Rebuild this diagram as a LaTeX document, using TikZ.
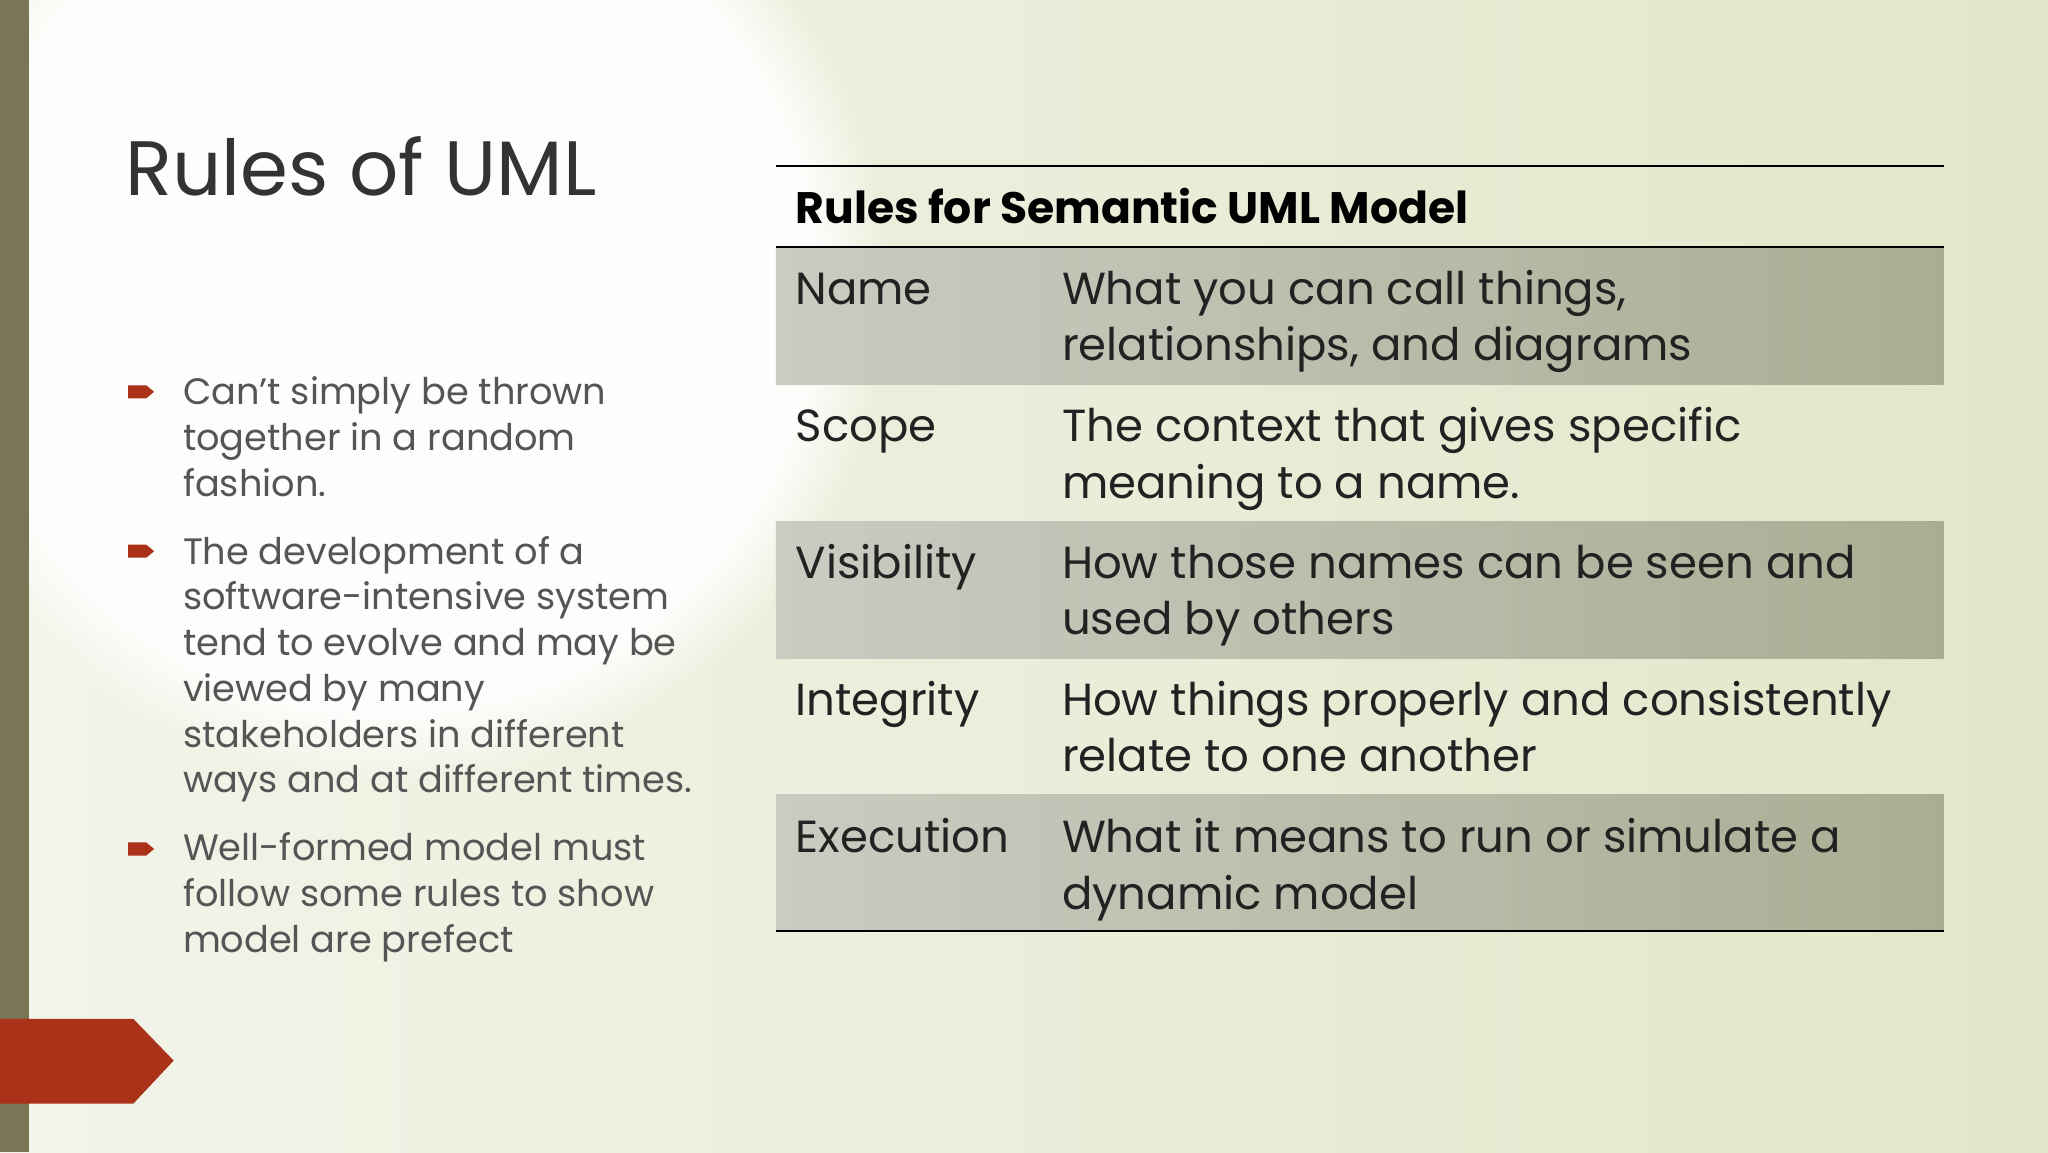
\documentclass[tikz,border=0pt]{standalone}
\usepackage{fontspec}
\setmainfont{Poppins}
\usetikzlibrary{shadings,fadings}
\definecolor{bar}{HTML}{7A7554}
\definecolor{accent}{HTML}{A93219}
\definecolor{txt}{HTML}{555555}
\definecolor{tbl}{HTML}{222222}
\definecolor{bgl}{HTML}{F3F4EA}
\definecolor{bgr}{HTML}{E2E7C9}
\definecolor{rowl}{HTML}{CBCBC2}
\definecolor{rowr}{HTML}{A9AE93}
\tikzset{
  cell/.style={anchor=base west,inner sep=0pt,text=tbl,font=\fontsize{49}{55}\selectfont},
  bul/.style={anchor=base west,inner sep=0pt,text=txt,font=\fontsize{40}{46}\selectfont},
  shaded row/.style={left color=rowl,right color=rowr,draw=none},
  rule/.style={line width=2pt,black}
}
\begin{document}
\begin{tikzpicture}[x=0.05cm,y=-0.05cm]
\useasboundingbox (0,0) rectangle (1568,882);
\shade[left color=bgl, right color=bgr] (0,0) rectangle (1568,882);
\fill[white,path fading=circle with fuzzy edge 15 percent,opacity=0.9] (300,220) circle (380);
\fill[bar] (0,0) rectangle (22,882);
\fill[accent] (0,780) -- (102,780) -- (133,812) -- (102,845) -- (0,845) -- cycle;
\node[anchor=base west,inner sep=0pt,text=black!80,font=\fontsize{84}{92}\selectfont] (title) at (96,150) {Rules of UML};
\foreach \y in {300,422,650}{
  \fill[accent] (98,\y-5) -- (112,\y-5) -- (118,\y) -- (112,\y+5) -- (98,\y+5) -- cycle;
}
\node[bul] (t1a) at (140,310) {Can't simply be thrown};
\node[bul] (t1b) at (140,345) {together in a random};
\node[bul] (t1c) at (140,380) {fashion.};
\node[bul] (t2a) at (140,432) {The development of a};
\node[bul] (t2b) at (140,467) {software-intensive system};
\node[bul] (t2c) at (140,502) {tend to evolve and may be};
\node[bul] (t2d) at (140,537) {viewed by many};
\node[bul] (t2e) at (140,572) {stakeholders in different};
\node[bul] (t2f) at (140,607) {ways and at different times.};
\node[bul] (t3a) at (140,659) {Well-formed model must};
\node[bul] (t3b) at (140,694) {follow some rules to show};
\node[bul] (t3c) at (140,729) {model are prefect};
\foreach \a in {189,399,608}{
  \shade[shaded row] (594,\a) rectangle (1488,\a+105);
}
\draw[rule] (594,127) -- (1488,127);
\draw[rule] (594,189) -- (1488,189);
\draw[rule] (594,713) -- (1488,713);
\node[cell,font=\bfseries\fontsize{48}{54}\selectfont,text=black] (hd) at (609,171) {Rules for Semantic UML Model};
\node[cell] (n1) at (609,233) {Name};
\node[cell] (d1a) at (813,233) {What you can call things,};
\node[cell] (d1b) at (813,276) {relationships, and diagrams};
\node[cell] (n2) at (609,338) {Scope};
\node[cell] (d2a) at (813,338) {The context that gives specific};
\node[cell] (d2b) at (813,382) {meaning to a name.};
\node[cell] (n3) at (609,443) {Visibility};
\node[cell] (d3a) at (813,443) {How those names can be seen and};
\node[cell] (d3b) at (813,486) {used by others};
\node[cell] (n4) at (609,548) {Integrity};
\node[cell] (d4a) at (813,548) {How things properly and consistently};
\node[cell] (d4b) at (813,591) {relate to one another};
\node[cell] (n5) at (609,653) {Execution};
\node[cell] (d5a) at (813,653) {What it means to run or simulate a};
\node[cell] (d5b) at (813,696) {dynamic model};
\end{tikzpicture}
\end{document}
